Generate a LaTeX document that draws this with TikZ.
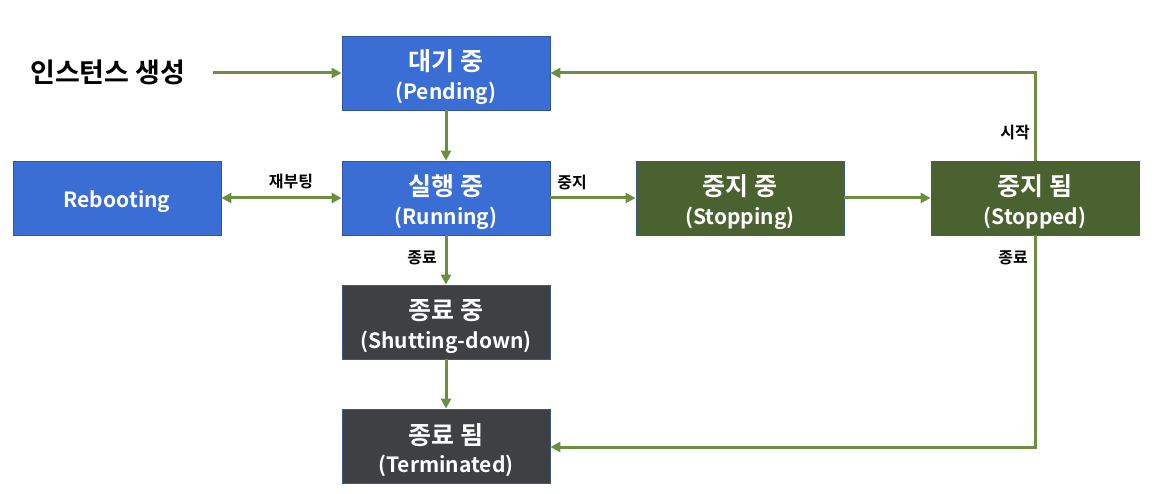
\documentclass[tikz,border=0pt]{standalone}
\usepackage{fontspec}
\setmainfont{Noto Sans CJK KR}[BoldFont={* Bold}]
\newfontfamily\kr{Noto Sans CJK KR Bold}
\usetikzlibrary{arrows.meta}
\definecolor{boxblue}{HTML}{3B6ED5}
\definecolor{boxblueline}{HTML}{2F55A0}
\definecolor{boxgreen}{HTML}{4A6230}
\definecolor{boxgreenline}{HTML}{3A5A80}
\definecolor{boxgray}{HTML}{3F4043}
\definecolor{arrowgreen}{HTML}{6B8F3E}
\tikzset{
  state/.style={draw, line width=0.8pt, minimum width=208pt, minimum height=74pt,
    inner sep=0pt, align=center, text=white, font=\kr},
  bluebox/.style={state, fill=boxblue, draw=boxblueline},
  greenbox/.style={state, fill=boxgreen, draw=boxgreenline},
  graybox/.style={state, fill=boxgray, draw=boxgreenline},
  conn/.style={draw=arrowgreen, line width=3pt, -{Triangle[length=10pt,width=10pt]}},
  lbl/.style={font=\kr\fontsize{16}{18}\selectfont, text=black, inner sep=0pt},
}
\newcommand{\twol}[2]{{\fontsize{25}{30}\selectfont\rule{0pt}{29pt}#1}\\[8pt]{\fontsize{21}{30}\selectfont #2}}
\begin{document}
\begin{tikzpicture}[x=1pt,y=-1pt]
\useasboundingbox[fill=white] (0,0) rectangle (1160,494);
\node[bluebox] (pend) at (446,73) {\twol{대기 중}{(Pending)}};
\node[bluebox] (run) at (446,198) {\twol{실행 중}{(Running)}};
\node[bluebox, font=\kr\fontsize{21}{24}\selectfont] (reb) at (117,198) {\rule{0pt}{25pt}Rebooting};
\node[greenbox] (stopping) at (740,198) {\twol{중지 중}{(Stopping)}};
\node[greenbox] (stopped) at (1035,198) {\twol{중지 됨}{(Stopped)}};
\node[graybox] (shut) at (446,322) {\twol{종료 중}{(Shutting-down)}};
\node[graybox] (term) at (446,446) {\twol{종료 됨}{(Terminated)}};
\node[font=\kr\fontsize{27}{30}\selectfont, text=black, anchor=west, inner sep=0pt] (create) at (30,72) {인스턴스 생성};
\coordinate (cstart) at (213,73);
\coordinate (ctop) at (1035,73);
\coordinate (cbot) at (1035,447);

\draw[conn] (cstart) -- (pend.west |- cstart);
\draw[conn] (pend) -- (run);
\draw[conn, {Triangle[length=10pt,width=10pt]}-{Triangle[length=10pt,width=10pt]}] (reb) -- (run);
\draw[conn] (run) -- (stopping);
\draw[conn] (stopping) -- (stopped);
\draw[conn] (stopped.north) -- (ctop) -- (pend.east |- ctop);
\draw[conn] (stopped.south) -- (cbot) -- (term.east |- cbot);
\draw[conn] (run) -- (shut);
\draw[conn] (shut) -- (term);

\node[lbl] (l1) at (291,182) {재부팅};
\node[lbl] (l2) at (572,183) {중지};
\node[lbl] (l3) at (1015,133) {시작};
\node[lbl] (l4) at (1013,258) {종료};
\node[lbl] (l5) at (422,258) {종료};
\end{tikzpicture}
\end{document}
